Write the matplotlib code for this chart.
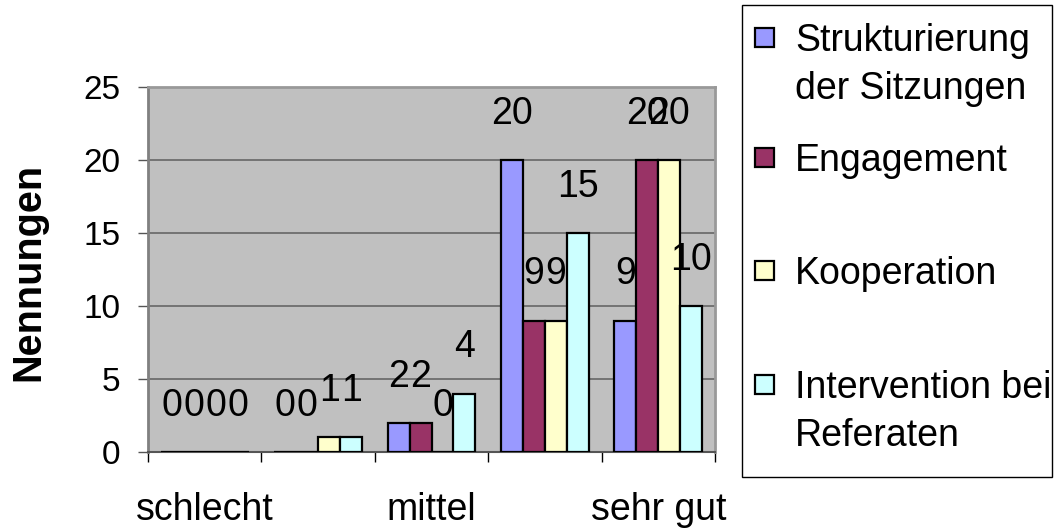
import matplotlib.pyplot as plt
import matplotlib.patches as mpatches
import numpy as np

plt.rcParams['font.family'] = ['Liberation Sans', 'DejaVu Sans']

categories = ['schlecht', '', 'mittel', '', 'sehr gut']
series_names = ['Strukturierung\nder Sitzungen', 'Engagement', 'Kooperation',
                'Intervention bei\nReferaten']
strukturierung = [0, 0, 2, 20, 9]
engagement = [0, 0, 2, 9, 20]
kooperation = [0, 1, 0, 9, 20]
intervention = [0, 1, 4, 15, 10]
colors = ['#9999FF', '#993366', '#FFFFCC', '#CCFFFF']

series = [strukturierung, engagement, kooperation, intervention]

fig = plt.figure(figsize=(10.54, 5.28), dpi=100)
ax = fig.add_axes([148 / 1054, 1 - 452 / 528, (715 - 148) / 1054, (452 - 87) / 528])
ax.set_facecolor('#C0C0C0')

x = np.arange(len(categories))
w = 0.194
for i, (vals, col) in enumerate(zip(series, colors)):
    pos = x + (i - 1.5) * w
    ax.bar(pos, vals, width=w, color=col, edgecolor='black', linewidth=1.6, zorder=3)
    for px, v in zip(pos, vals):
        ax.annotate(str(v), (px, v), xytext=(0, 26), textcoords='offset points',
                    ha='center', va='baseline', fontsize=27, zorder=4)

ax.set_xlim(-0.5, len(categories) - 0.5)
ax.set_ylim(0, 25)
ax.set_yticks(range(0, 26, 5))
ax.yaxis.grid(True, color='#666666', linewidth=1.2, zorder=1)
ax.set_axisbelow(True)

ax.set_xticks(x)
ax.set_xticklabels(categories, fontsize=27)
ax.set_xticks(np.arange(-0.5, len(categories)), minor=True)
ax.tick_params(axis='x', which='major', length=0, pad=29)
ax.tick_params(axis='x', which='minor', length=7, width=1, direction='out', color='black')
ax.tick_params(axis='y', length=7, width=1, direction='out', pad=13, labelsize=24,
               color='#555555')

ax.spines['left'].set_color('#808080')
ax.spines['left'].set_linewidth(2)
ax.spines['bottom'].set_color('#555555')
ax.spines['bottom'].set_linewidth(1.5)
for s in ['top', 'right']:
    ax.spines[s].set_color('#999999')
    ax.spines[s].set_linewidth(2)

fig.text(28 / 1054, 1 - 272 / 528, 'Nennungen', rotation=90, fontsize=28.5,
         fontweight='bold', ha='center', va='center')

# legend drawn by hand to match the Excel layout
box = mpatches.Rectangle((742 / 1054, 1 - 477 / 528), (1052 - 742) / 1054, (477 - 5) / 528,
                         transform=fig.transFigure, facecolor='white',
                         edgecolor='black', linewidth=1)
fig.patches.append(box)
legend_y = [37, 157, 270, 384]
for name, col, ly in zip(series_names, colors, legend_y):
    sq = mpatches.Rectangle((755 / 1054, 1 - (ly + 9.5) / 528), 19 / 1054, 19 / 528,
                            transform=fig.transFigure, facecolor=col,
                            edgecolor='black', linewidth=1.6)
    fig.patches.append(sq)
    for j, line in enumerate(name.split('\n')):
        fig.text(795 / 1054, 1 - (ly + j * 48) / 528, line, fontsize=27,
                 ha='left', va='center_baseline')

fig.savefig('out.png', dpi=100)
